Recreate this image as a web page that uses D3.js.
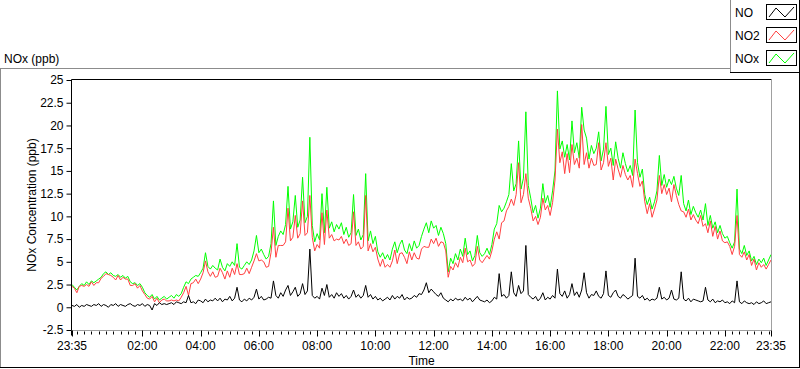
<!DOCTYPE html>
<html>
<head>
<meta charset="utf-8">
<script src="https://cdn.jsdelivr.net/npm/d3@7"></script>
<style>
  body { margin: 0; background: #fff; }
  text { font-family: "Liberation Sans", Arial, sans-serif; font-size: 12px; fill: #000; }
</style>
</head>
<body>
<div id="chart"></div>
<script>
var width = 800,
    height = 369,
    margin = {top: 80, right: 29, bottom: 39, left: 72};

// series, one value every 5 minutes from 23:35 to 23:35 the next day (ppb)
var noxValues = [
  2.5,2.2,1.9,2.3,2.6,2.4,2.8,2.5,2.9,2.7,
  2.9,3.1,3.3,3.7,3.9,3.6,3.8,3.5,3.4,3.6,
  3.3,3.5,3.2,3.4,2.8,2.6,2.7,2.4,2.6,2.2,
  1.6,1.3,1.1,1.4,0.9,1.2,0.8,1.0,1.2,0.9,
  1.1,1.3,1.0,1.4,1.2,1.5,2.2,2.8,2.6,3.1,
  3.3,3.5,3.4,3.8,4.3,6.0,4.5,4.2,4.6,4.3,
  4.1,5.3,4.4,4.0,4.8,4.5,5.0,4.6,7.0,4.4,
  4.2,4.6,5.0,4.7,5.2,6.2,7.9,6.0,6.4,5.8,
  5.3,5.6,7.0,11.7,6.8,7.8,8.4,8.0,9.1,13.3,
  8.6,9.4,12.3,8.8,9.6,14.3,9.3,10.0,18.7,9.0,
  7.2,8.1,7.4,12.5,8.2,13.2,8.7,9.4,8.3,9.1,
  8.6,9.3,8.0,8.8,7.7,8.2,12.4,7.9,8.6,7.4,
  8.0,14.7,7.3,8.4,7.0,7.8,6.1,5.5,6.0,5.3,
  5.8,5.2,6.4,7.2,6.0,6.9,7.4,6.3,5.9,7.0,
  6.2,7.3,6.5,6.8,7.8,8.6,9.3,8.2,9.5,8.7,
  9.0,7.9,8.8,8.1,7.0,3.9,5.4,4.8,5.9,5.2,
  6.4,5.6,7.6,5.8,6.2,5.1,5.7,7.9,6.0,5.6,
  5.9,6.5,5.8,6.9,8.6,9.2,11.2,10.5,10.9,11.6,
  12.4,15.8,12.8,13.6,18.3,13.0,14.2,21.5,13.4,12.0,
  10.4,11.2,9.8,10.9,13.6,11.5,12.3,11.0,12.8,15.0,
  23.8,17.4,18.3,16.5,17.9,16.2,20.5,17.0,18.1,16.4,
  22.0,19.5,18.6,16.3,17.8,16.9,17.5,19.3,16.1,17.4,
  22.1,16.8,17.5,15.6,18.2,16.4,15.3,17.0,15.8,14.9,
  15.6,14.5,21.7,15.9,14.3,15.2,12.4,11.3,12.1,10.8,
  11.6,12.8,16.7,13.4,14.6,13.2,14.1,13.5,14.4,13.1,
  12.3,14.5,11.4,10.6,11.8,10.2,11.1,10.4,9.9,10.7,
  9.6,11.4,9.0,10.1,8.7,9.4,8.2,9.0,8.1,7.6,
  7.8,7.1,6.5,7.2,13.0,6.4,5.9,6.8,5.7,6.2,
  5.1,5.6,4.7,5.3,4.9,5.4,4.6,5.2,5.8
];

var no2Values = [
  2.3,2.1,1.6,2.3,2.4,2.3,2.5,2.3,2.8,2.4,
  2.7,2.7,3.2,3.4,3.7,3.6,3.5,3.3,3.0,3.5,
  3.0,3.3,3.1,3.1,2.4,2.4,2.6,2.1,2.4,1.8,
  1.4,1.0,0.9,1.2,0.6,1.0,0.5,0.8,0.9,0.7,
  0.7,0.8,0.7,0.8,0.7,1.1,1.6,2.3,1.3,2.6,
  2.7,3.1,2.6,3.1,3.8,5.1,3.9,3.4,3.9,3.3,
  3.4,4.3,3.8,3.1,4.0,3.3,4.3,3.6,4.8,3.6,
  3.6,3.7,4.3,3.7,4.4,5.1,5.9,5.1,5.2,5.0,
  4.4,4.5,6.0,8.8,5.5,6.8,6.8,6.8,7.2,10.9,
  7.3,7.7,10.1,7.6,8.1,11.7,7.9,8.2,12.3,7.7,
  6.2,6.9,6.5,10.4,6.9,10.7,7.6,8.0,7.3,7.5,
  7.4,7.8,7.0,7.5,6.8,7.0,10.5,6.8,7.2,6.4,
  6.7,12.3,6.2,7.0,6.1,6.6,5.3,4.5,5.3,4.4,
  4.7,4.4,5.1,6.3,4.8,5.9,6.0,5.5,4.8,6.1,
  5.2,6.0,5.4,5.3,6.4,6.7,6.6,6.6,7.5,7.0,
  7.6,6.7,7.2,7.1,6.2,3.3,4.5,4.1,4.9,4.4,
  5.5,4.9,6.5,5.0,5.2,4.5,4.8,6.7,5.2,4.9,
  5.3,5.7,5.3,6.2,7.5,8.3,7.5,9.3,9.5,10.6,
  11.1,11.9,11.2,12.4,15.9,11.5,12.4,14.7,12.0,10.9,
  9.5,10.0,9.1,9.9,12.0,10.7,11.2,10.1,11.5,14.0,
  19.6,15.9,17.1,14.7,16.9,14.8,17.9,15.7,16.4,15.3,
  20.1,15.7,17.0,15.3,16.4,15.6,15.7,18.1,15.1,15.9,
  18.1,15.5,16.4,14.0,16.3,15.2,14.3,15.6,14.6,14.0,
  14.5,13.2,16.3,14.7,13.3,13.9,11.6,10.3,11.4,9.9,
  10.8,11.8,14.5,12.5,13.5,12.4,13.1,11.6,13.5,12.3,
  11.3,10.6,10.5,9.9,10.8,9.6,10.2,9.6,9.2,10.1,
  8.9,9.2,8.2,9.5,7.8,8.9,7.5,8.4,7.3,7.1,
  7.2,6.7,5.8,6.7,10.1,5.8,5.5,6.1,5.2,5.8,
  4.6,5.3,4.1,4.9,4.4,4.7,4.2,4.7,5.2
];

var noValues = [
  0.2,0.1,0.3,0.0,0.2,0.1,0.3,0.2,0.1,0.3,
  0.2,0.4,0.1,0.3,0.2,0.0,0.3,0.2,0.4,0.1,
  0.3,0.2,0.1,0.3,0.4,0.2,0.1,0.3,0.2,0.4,
  0.1,0.3,0.2,-0.3,0.4,0.2,0.5,0.3,0.4,0.3,
  0.4,0.5,0.3,0.6,0.5,0.4,0.6,0.5,1.3,0.5,
  0.6,0.4,0.8,0.7,0.5,0.9,0.6,0.8,0.7,1.0,
  0.7,1.0,0.6,0.9,0.8,1.2,0.7,1.0,2.2,0.8,
  0.6,0.9,0.7,1.0,0.8,1.1,2.0,0.9,1.2,0.8,
  0.9,1.1,1.0,2.9,1.3,1.0,1.6,1.2,1.9,2.4,
  1.3,1.7,2.2,1.2,1.5,2.6,1.4,1.8,6.4,1.3,
  1.0,1.2,0.9,2.1,1.3,2.5,1.1,1.4,1.0,1.6,
  1.2,1.5,1.0,1.3,0.9,1.2,1.9,1.1,1.4,1.0,
  1.3,2.4,1.1,1.4,0.9,1.2,0.8,1.0,0.7,0.9,
  1.1,0.8,1.3,0.9,1.2,1.0,1.4,0.8,1.1,0.9,
  1.0,1.3,1.1,1.5,1.4,1.9,2.7,1.6,2.0,1.7,
  1.4,1.2,1.6,1.0,0.8,0.6,0.9,0.7,1.0,0.8,
  0.9,0.7,1.1,0.8,1.0,0.6,0.9,1.2,0.8,0.7,
  0.6,0.8,0.5,0.7,1.1,0.9,3.7,1.2,1.4,1.0,
  1.3,3.9,1.6,1.2,2.4,1.5,1.8,6.8,1.4,1.1,
  0.9,1.2,0.7,1.0,1.6,0.8,1.1,0.9,1.3,1.0,
  4.2,1.5,1.2,1.8,1.0,1.4,2.6,1.3,1.7,1.1,
  1.9,3.8,1.6,1.0,1.4,1.3,1.8,1.2,1.0,1.5,
  4.0,1.3,1.1,1.6,1.9,1.2,1.0,1.4,1.2,0.9,
  1.1,1.3,5.4,1.2,1.0,1.3,0.8,1.0,0.7,0.9,
  0.8,1.0,2.2,0.9,1.1,0.8,1.0,1.9,0.9,0.8,
  1.0,3.9,0.9,0.7,1.0,0.6,0.9,0.8,0.7,0.6,
  0.7,2.2,0.8,0.6,0.9,0.5,0.7,0.6,0.8,0.5,
  0.6,0.4,0.7,0.5,2.9,0.6,0.4,0.7,0.5,0.4,
  0.5,0.3,0.6,0.4,0.5,0.7,0.4,0.5,0.6
];

var yTicks = [-2.5, 0, 2.5, 5, 7.5, 10, 12.5, 15, 17.5, 20, 22.5, 25];
var xTickLabels = ["23:35", "02:00", "04:00", "06:00", "08:00", "10:00", "12:00",
                   "14:00", "16:00", "18:00", "20:00", "22:00", "23:35"];
var seriesNames = ["NO", "NO2", "NOx"];
var seriesColors = ["#000000", "#ff4040", "#00ff00"];

var start = new Date(2000, 0, 1, 23, 35),
    end = new Date(2000, 0, 2, 23, 35);
var stepMinutes = 5;

var xScale = d3.scaleTime()
    .domain([start, end])
    .range([margin.left, width - margin.right]);

var yScale = d3.scaleLinear()
    .domain([-2.5, 25])
    .range([height - margin.bottom, margin.top]);

var svg = d3.select("#chart").append("svg")
    .attr("width", width)
    .attr("height", height);

// outer panel frame
svg.append("line").attr("x1", 0).attr("x2", 730).attr("y1", 68.5).attr("y2", 68.5).attr("stroke", "#8c8c8c");
svg.append("line").attr("x1", 0.5).attr("x2", 0.5).attr("y1", 68).attr("y2", 368).attr("stroke", "#8c8c8c");
svg.append("line").attr("x1", 0).attr("x2", 800).attr("y1", 367.5).attr("y2", 367.5).attr("stroke", "#000");
svg.append("line").attr("x1", 799.5).attr("x2", 799.5).attr("y1", 72).attr("y2", 368).attr("stroke", "#000");

svg.append("text").attr("x", 4).attr("y", 63).text("NOx (ppb)");

// plot area
var x0 = margin.left - 0.5, x1 = width - margin.right + 0.5,
    y0 = margin.top - 0.5, y1 = height - margin.bottom + 0.5;
svg.append("rect").attr("x", x0).attr("y", y0).attr("width", x1 - x0).attr("height", y1 - y0).attr("fill", "#fff");

var clip = svg.append("clipPath").attr("id", "plotclip")
    .append("rect").attr("x", x0).attr("y", y0).attr("width", x1 - x0).attr("height", y1 - y0);

function toPoints(values) {
  return values.map((v, i) => ({t: d3.timeMinute.offset(start, i * stepMinutes), v: v}));
}

var line = d3.line()
    .x(d => xScale(d.t))
    .y(d => yScale(d.v));

var plot = svg.append("g").attr("clip-path", "url(#plotclip)");
[[noxValues, 2], [no2Values, 1], [noValues, 0]].forEach(function (s) {
  plot.append("path")
      .datum(toPoints(s[0]))
      .attr("fill", "none")
      .attr("stroke", seriesColors[s[1]])
      .attr("stroke-width", 1)
      .attr("d", line);
});

// frame: black top/left, gray bottom/right
svg.append("line").attr("x1", x0).attr("x2", x1).attr("y1", y0).attr("y2", y0).attr("stroke", "#000");
svg.append("line").attr("x1", x0).attr("x2", x0).attr("y1", y0).attr("y2", y1 + 5).attr("stroke", "#000");
svg.append("line").attr("x1", x0).attr("x2", x1).attr("y1", y1).attr("y2", y1).attr("stroke", "#a0a0a0");
svg.append("line").attr("x1", x1).attr("x2", x1).attr("y1", y0).attr("y2", y1).attr("stroke", "#a0a0a0");

// y axis
var yAxis = d3.axisLeft(yScale)
    .tickValues(yTicks)
    .tickSize(5)
    .tickPadding(3)
    .tickFormat(d => String(d));
var gy = svg.append("g").attr("transform", "translate(" + x0 + ",0)").call(yAxis);
gy.select(".domain").remove();
gy.selectAll("text").attr("font-family", null).attr("font-size", null).attr("fill", "#000");

// x axis: minor ticks every 15 min, labelled major ticks
var minorTicks = d3.timeMinute.every(15).range(d3.timeMinute.offset(start, 1), end);
svg.append("g").selectAll("line").data(minorTicks).enter().append("line")
    .attr("x1", d => Math.round(xScale(d)) + 0.5).attr("x2", d => Math.round(xScale(d)) + 0.5)
    .attr("y1", y1 + 1).attr("y2", y1 + 4)
    .attr("stroke", "#000");

var majorTicks = xTickLabels.map(function (s, i) {
  if (i === 0) return start;
  if (i === xTickLabels.length - 1) return end;
  var hm = s.split(":");
  return new Date(2000, 0, 2, +hm[0], +hm[1]);
});
var gx = svg.append("g");
gx.selectAll("line").data(majorTicks).enter().append("line")
    .attr("x1", d => Math.round(xScale(d)) + 0.5).attr("x2", d => Math.round(xScale(d)) + 0.5)
    .attr("y1", y1).attr("y2", y1 + 6)
    .attr("stroke", "#000");
gx.selectAll("text").data(majorTicks).enter().append("text")
    .attr("x", d => xScale(d))
    .attr("y", 349.5)
    .attr("text-anchor", "middle")
    .text((d, i) => xTickLabels[i]);

svg.append("text").attr("x", (x0 + x1) / 2).attr("y", 365).attr("text-anchor", "middle").text("Time");

svg.append("text")
    .attr("transform", "translate(36," + ((y0 + y1) / 2) + ") rotate(-90)")
    .attr("text-anchor", "middle")
    .text("NOx Concentration (ppb)");

// legend
var legend = svg.append("g");
legend.append("rect").attr("x", 730.5).attr("y", -1).attr("width", 69).attr("height", 73.5).attr("fill", "#fff").attr("stroke", "none");
legend.append("line").attr("x1", 730.5).attr("x2", 730.5).attr("y1", 0).attr("y2", 72).attr("stroke", "#8c8c8c");
legend.append("line").attr("x1", 730).attr("x2", 800).attr("y1", 72.5).attr("y2", 72.5).attr("stroke", "#000");
legend.append("line").attr("x1", 799.5).attr("x2", 799.5).attr("y1", 0).attr("y2", 73).attr("stroke", "#000");

var rows = legend.selectAll("g.item").data(seriesNames).enter().append("g")
    .attr("class", "item")
    .attr("transform", (d, i) => "translate(0," + (i * 23) + ")");
rows.append("text").attr("x", 735).attr("y", 17).text(d => d);
rows.append("rect").attr("x", 766.5).attr("y", 4.5).attr("width", 30).attr("height", 15)
    .attr("fill", "#fff").attr("stroke", "#000");
rows.append("polyline")
    .attr("points", "769,17 776,8 785,17 794,7")
    .attr("fill", "none")
    .attr("stroke", (d, i) => seriesColors[i]);
</script>
</body>
</html>
